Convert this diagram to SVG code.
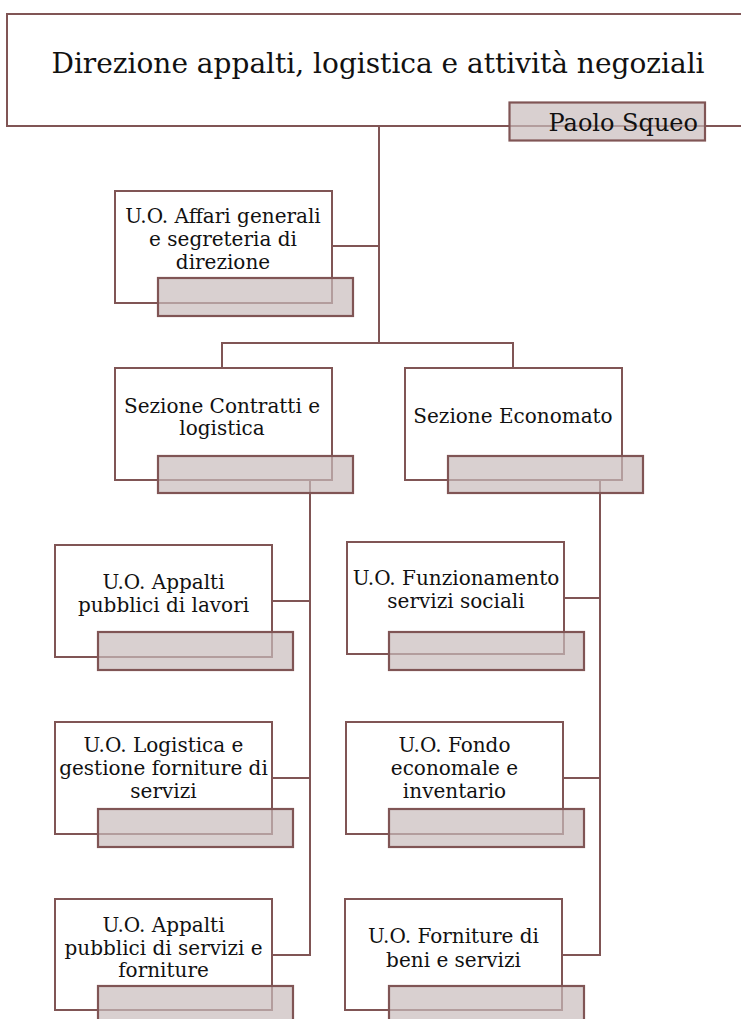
<svg xmlns="http://www.w3.org/2000/svg" width="741" height="1019" viewBox="0 0 741 1019">
<style>
.box{fill:#ffffff;stroke:#805555;stroke-width:2}
.sub{fill:#c9bcbc;fill-opacity:0.7;stroke:#805555;stroke-width:2.2}
.con{fill:none;stroke:#805555;stroke-width:2}
text{font-family:"DejaVu Serif",serif;fill:#111111;text-anchor:middle}
.t{font-size:20px}
</style>
<rect width="741" height="1019" fill="#ffffff"/>
<g id="connectors">
<path class="con" d="M379,126 V343"/>
<path class="con" d="M332,246 H379"/>
<path class="con" d="M222,368 V343 H513 V368"/>
<path class="con" d="M310,480 V955 H272"/>
<path class="con" d="M272,601 H310"/>
<path class="con" d="M272,778 H310"/>
<path class="con" d="M600,480 V955 H562"/>
<path class="con" d="M564,598 H600"/>
<path class="con" d="M563,778 H600"/>
</g>
<g id="n-direzione">
<rect class="box" x="7" y="14" width="760" height="112"/>
<text x="378" y="73" style="font-size:28px">Direzione appalti, logistica e attività negoziali</text>
<rect class="sub" x="509.5" y="102.5" width="195.5" height="38"/>
<text x="698" y="131" style="font-size:24px;text-anchor:end">Paolo Squeo</text>
</g>
<g id="n-affari">
<rect class="box" x="115" y="191" width="217" height="112"/>
<text class="t" x="223" y="223">U.O. Affari generali</text>
<text class="t" x="223" y="246">e segreteria di</text>
<text class="t" x="223" y="269">direzione</text>
<rect class="sub" x="158" y="278" width="195" height="38"/>
</g>
<g id="n-contratti">
<rect class="box" x="115" y="368" width="217" height="112"/>
<text class="t" x="222" y="413">Sezione Contratti e</text>
<text class="t" x="222" y="435">logistica</text>
<rect class="sub" x="158" y="456" width="195" height="37"/>
</g>
<g id="n-economato">
<rect class="box" x="405" y="368" width="217" height="112"/>
<text class="t" x="513" y="423">Sezione Economato</text>
<rect class="sub" x="448" y="456" width="195" height="37"/>
</g>
<g id="n-appalti-lavori">
<rect class="box" x="55" y="545" width="217" height="112"/>
<text class="t" x="163.5" y="589">U.O. Appalti</text>
<text class="t" x="163.5" y="612">pubblici di lavori</text>
<rect class="sub" x="98" y="632" width="195" height="38"/>
</g>
<g id="n-funzionamento">
<rect class="box" x="347" y="542" width="217" height="112"/>
<text class="t" x="456" y="585">U.O. Funzionamento</text>
<text class="t" x="456" y="608">servizi sociali</text>
<rect class="sub" x="389" y="632" width="195" height="38"/>
</g>
<g id="n-logistica">
<rect class="box" x="55" y="722" width="217" height="112"/>
<text class="t" x="163.5" y="752">U.O. Logistica e</text>
<text class="t" x="163.5" y="775">gestione forniture di</text>
<text class="t" x="163.5" y="798">servizi</text>
<rect class="sub" x="98" y="809" width="195" height="38"/>
</g>
<g id="n-fondo">
<rect class="box" x="346" y="722" width="217" height="112"/>
<text class="t" x="454.5" y="752">U.O. Fondo</text>
<text class="t" x="454.5" y="775">economale e</text>
<text class="t" x="454.5" y="798">inventario</text>
<rect class="sub" x="389" y="809" width="195" height="38"/>
</g>
<g id="n-appalti-servizi">
<rect class="box" x="55" y="899" width="217" height="111"/>
<text class="t" x="163.5" y="932">U.O. Appalti</text>
<text class="t" x="163.5" y="955">pubblici di servizi e</text>
<text class="t" x="163.5" y="977">forniture</text>
<rect class="sub" x="98" y="986" width="195" height="38"/>
</g>
<g id="n-forniture">
<rect class="box" x="345" y="899" width="217" height="111"/>
<text class="t" x="453.5" y="943">U.O. Forniture di</text>
<text class="t" x="453.5" y="967">beni e servizi</text>
<rect class="sub" x="389" y="986" width="195" height="38"/>
</g>
</svg>
